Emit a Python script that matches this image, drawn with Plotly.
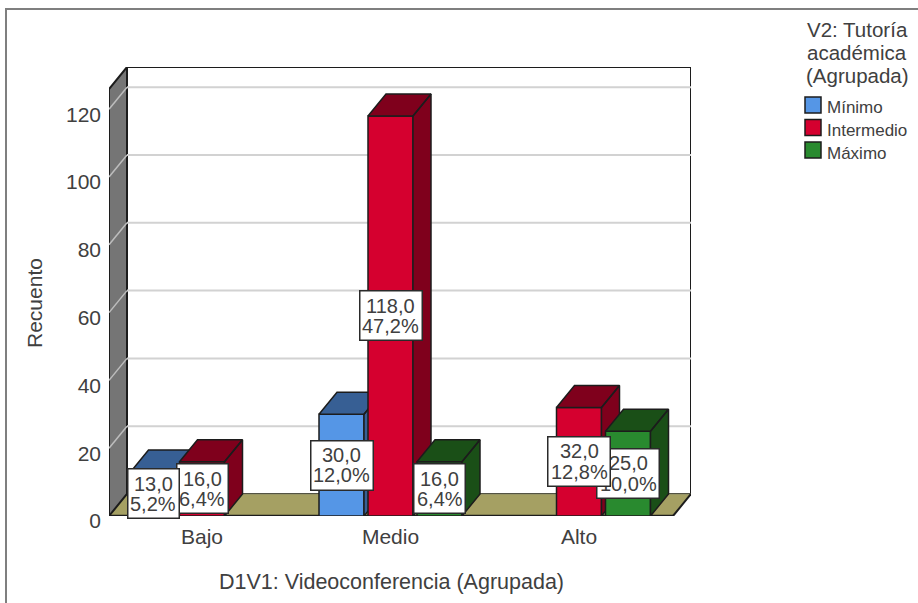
import plotly.graph_objects as go

# ---- data ----
categories = ["Bajo", "Medio", "Alto"]
series_names = ["Mínimo", "Intermedio", "Máximo"]
minimo_counts = [13, 30, None]
intermedio_counts = [16, 118, 32]
maximo_counts = [None, 16, 25]
minimo_pct = ["5,2%", "12,0%", None]
intermedio_pct = ["6,4%", "47,2%", "12,8%"]
maximo_pct = [None, "6,4%", "10,0%"]
y_ticks = [0, 20, 40, 60, 80, 100, 120]
legend_title_lines = ["V2: Tutoría", "académica", "(Agrupada)"]
x_title = "D1V1: Videoconferencia (Agrupada)"
y_title = "Recuento"

# ---- style / geometry ----
W, H = 918, 603
PX_PER_CAT = 188.5
PX_PER_UNIT = 3.39
X0_PX, Y0_PX = 202.0, 516.0      # pixel of category 0 / of count 0
DOM_L, DOM_R, DOM_T = 109, 691, 67
DEPTH_X = 18 / PX_PER_CAT
DEPTH_Y = 22 / PX_PER_UNIT
BAR_W = 45 / PX_PER_CAT
BAR_STEP = 49 / PX_PER_CAT
X_MIN = (DOM_L - X0_PX) / PX_PER_CAT
X_FRONT_MAX = (673 - X0_PX) / PX_PER_CAT
X_MAX = (DOM_R - X0_PX) / PX_PER_CAT
Y_MAX = (Y0_PX - DOM_T) / PX_PER_UNIT
Y_FRONT_TOP = Y_MAX - DEPTH_Y

FRONT = ["#5596E6", "#D5002F", "#298A2F"]
SHADE = ["#375F94", "#7F001C", "#1A4F17"]
INK = "#1c1c1c"
TEXT = "#404040"
FONT = "Liberation Sans"

series = [
    (minimo_counts, minimo_pct),
    (intermedio_counts, intermedio_pct),
    (maximo_counts, maximo_pct),
]

fig = go.Figure()

shapes = []
def poly(xs, ys, fill, line=INK, width=1.5):
    path = "M" + " L".join(f"{a},{b}" for a, b in zip(xs, ys)) + " Z"
    shapes.append(dict(type="path", path=path, xref="x", yref="y", layer="below",
                       fillcolor=fill, line=dict(color=line, width=width)))
def seg(x0, y0, x1, y1, color, width):
    shapes.append(dict(type="line", x0=x0, y0=y0, x1=x1, y1=y1, xref="x", yref="y",
                       layer="below", line=dict(color=color, width=width)))

# back wall, floor, left wall
poly([X_MIN + DEPTH_X, X_MAX, X_MAX, X_MIN + DEPTH_X], [DEPTH_Y, DEPTH_Y, Y_MAX, Y_MAX], "#FFFFFF", INK, 2)
poly([X_MIN, X_MIN + DEPTH_X, X_MAX, X_FRONT_MAX], [0, DEPTH_Y, DEPTH_Y, 0], "#A5A063", "#8a8a6a", 1)
poly([X_MIN, X_MIN + DEPTH_X, X_MIN + DEPTH_X, X_MIN], [0, DEPTH_Y, Y_MAX, Y_FRONT_TOP], "#757575", INK, 2)
seg(X_MIN, 0, X_FRONT_MAX, 0, INK, 2.5)
seg(X_FRONT_MAX, 0, X_MAX, DEPTH_Y, INK, 2)
# gridlines on the back wall and left wall
for t in y_ticks[1:]:
    seg(X_MIN + DEPTH_X, t + DEPTH_Y, X_MAX, t + DEPTH_Y, "#D2D2D2", 2)
    seg(X_MIN, t, X_MIN + DEPTH_X, t + DEPTH_Y, "#BDBDBD", 1.5)

# bars, front faces from go.Bar, top + side from filled scatter, same z-layer
for s, (vals, _) in enumerate(series):
    offs = (s - 1) * BAR_STEP
    xc = [i + offs for i in range(len(categories))]
    fig.add_trace(go.Bar(x=xc, y=vals, width=BAR_W, name=series_names[s], zorder=s + 1,
                         marker=dict(color=FRONT[s], line=dict(color=INK, width=1.5)),
                         showlegend=False))
    px, py = [], []
    for x, v in zip(xc, vals):
        if v is None:
            continue
        l, r = x - BAR_W / 2, x + BAR_W / 2
        px += [l, r, r + DEPTH_X, l + DEPTH_X, l, None, r, r + DEPTH_X, r + DEPTH_X, r, r, None]
        py += [v, v, v + DEPTH_Y, v + DEPTH_Y, v, None, 0, DEPTH_Y, v + DEPTH_Y, v, 0, None]
    fig.add_trace(go.Scatter(x=px, y=py, mode="lines", fill="toself", fillcolor=SHADE[s],
                             line=dict(color=INK, width=1.5), zorder=s + 1,
                             hoverinfo="skip", showlegend=False))

# data labels: white box plus two tight text lines (later series sit underneath)
annotations = []
LABEL_SIZE = 20
LINE_GAP = 10.3
def txt_width(t):
    return sum({",": .278, "%": .889}.get(c, .556) for c in t) * LABEL_SIZE
for s in reversed(range(len(series))):
    vals, pcts = series[s]
    offs = (s - 1) * BAR_STEP
    for i, (v, p) in enumerate(zip(vals, pcts)):
        if v is None:
            continue
        x, y = i + offs, v / 2
        count_text = f"{v:.1f}".replace(".", ",")
        annotations.append(dict(x=x, y=y, xref="x", yref="y", text=" ", showarrow=False,
                                width=max(txt_width(p), txt_width(count_text)) + 2, height=46,
                                bgcolor="#FFFFFF", bordercolor="#2a2a2a", borderwidth=1.5,
                                font=dict(size=LABEL_SIZE, family=FONT)))
        for text, shift in ((count_text, LINE_GAP), (p, -LINE_GAP)):
            annotations.append(dict(x=x, y=y, xref="x", yref="y", text=text, showarrow=False,
                                    yshift=shift, font=dict(size=LABEL_SIZE, family=FONT, color=TEXT)))

# legend block
for k, line in enumerate(legend_title_lines):
    annotations.append(dict(x=857 / W, y=1 - (30 + 22.5 * k) / H, xref="paper", yref="paper",
                            text=line, showarrow=False, xanchor="center", yanchor="middle",
                            font=dict(size=20.5, family=FONT, color=TEXT)))
for k, name in enumerate(series_names):
    yc = 105 + 22.5 * k
    shapes.append(dict(type="rect", xref="paper", yref="paper", x0=805 / W, x1=821 / W,
                       y0=1 - (yc - 8) / H, y1=1 - (yc + 8) / H, fillcolor=FRONT[k],
                       line=dict(color=INK, width=1.5)))
    annotations.append(dict(x=825 / W, y=1 - (yc + 3) / H, xref="paper", yref="paper", text=name,
                            showarrow=False, xanchor="left", yanchor="middle",
                            font=dict(size=17, family=FONT, color=TEXT)))

# axis titles
annotations.append(dict(x=391 / W, y=1 - 582 / H, xref="paper", yref="paper", text=x_title,
                        showarrow=False, xanchor="center", yanchor="middle",
                        font=dict(size=21.5, family=FONT, color=TEXT)))
annotations.append(dict(x=34 / W, y=1 - 303 / H, xref="paper", yref="paper", text=y_title,
                        showarrow=False, textangle=-90, xanchor="center", yanchor="middle",
                        font=dict(size=21, family=FONT, color=TEXT)))

# outer frame
shapes.append(dict(type="path", xref="paper", yref="paper", layer="below",
                   path=f"M{6/W},0 L{6/W},{1-9/H} L1,{1-9/H}",
                   line=dict(color="#7F7F7F", width=2)))

fig.update_layout(
    width=W, height=H, margin=dict(l=0, r=0, t=0, b=0, autoexpand=False),
    paper_bgcolor="#FFFFFF", plot_bgcolor="#FFFFFF", barmode="overlay",
    showlegend=False, shapes=shapes, annotations=annotations,
    font=dict(family=FONT, color=TEXT),
    xaxis=dict(domain=[DOM_L / W, DOM_R / W], range=[X_MIN, X_MAX], tickvals=list(range(len(categories))),
               ticktext=categories, showgrid=False, zeroline=False, showline=False, ticks="",
               tickfont=dict(size=21), ticklabelstandoff=6),
    yaxis=dict(domain=[1 - Y0_PX / H, 1 - DOM_T / H], range=[0, Y_MAX], tickvals=y_ticks,
               showgrid=False, zeroline=False, showline=False, ticks="",
               tickfont=dict(size=21), ticklabelstandoff=7, ticklabelshift=5),
)

fig.write_html("out.html", post_script="document.body.style.margin='0';",
               config={"displayModeBar": False})
